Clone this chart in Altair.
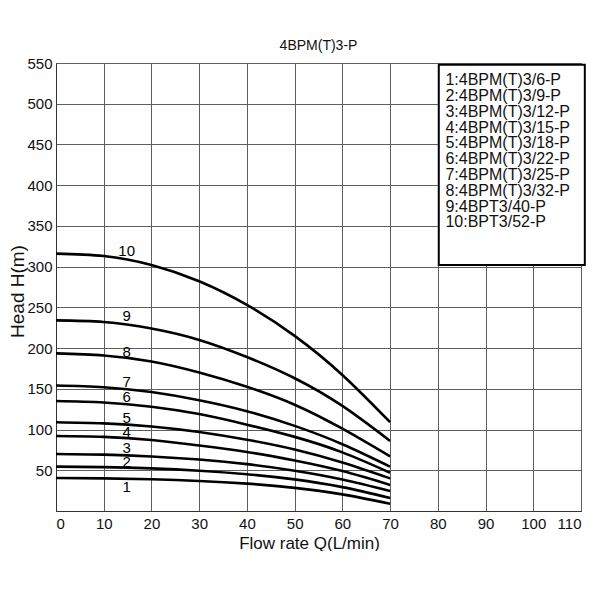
import altair as alt
import pandas as pd

FONT = "Liberation Sans"

# flow rate (L/min) where the curves were read
Q = [0, 10, 20, 30, 40, 50, 60, 70]

# head (m) of each pump curve at the flow rates above
H1 = [40.5, 40, 38.9, 36.9, 33.6, 28.4, 20.4, 9]
H2 = [54.5, 53.9, 52.3, 49.5, 45.2, 38.8, 29.3, 16]
H3 = [70, 69.2, 67, 63.2, 57.5, 49.5, 38.7, 24.5]
H4 = [92, 91, 87.2, 80.5, 72.5, 62, 49, 32]
H5 = [109, 107.6, 103.8, 97, 87.5, 75.5, 59.5, 40]
H6 = [135, 133.2, 128, 119, 106, 91, 72, 47]
H7 = [154, 152, 146, 136, 122.5, 104.5, 82, 54.5]
H8 = [193.5, 191, 183.5, 170, 152.5, 130.5, 101, 67]
H9 = [234, 232, 224, 210, 189, 163, 129, 86]
H10 = [316, 313, 302, 282, 253, 215, 167, 109]

CURVES = [H1, H2, H3, H4, H5, H6, H7, H8, H9, H10]
CURVE_IDS = ["1", "2", "3", "4", "5", "6", "7", "8", "9", "10"]

# where the curve numbers are written
LABEL_Q = [14.8] * 10
LABEL_H = [29.8, 60.5, 77, 96.5, 113.7, 139.5, 158.6, 195.5, 239, 319]

MODELS = [
    "1:4BPM(T)3/6-P",
    "2:4BPM(T)3/9-P",
    "3:4BPM(T)3/12-P",
    "4:4BPM(T)3/15-P",
    "5:4BPM(T)3/18-P",
    "6:4BPM(T)3/22-P",
    "7:4BPM(T)3/25-P",
    "8:4BPM(T)3/32-P",
    "9:4BPT3/40-P",
    "10:BPT3/52-P",
]

rows = []
for cid, heads in zip(CURVE_IDS, CURVES):
    for q, h in zip(Q, heads):
        rows.append({"curve": cid, "q": q, "h": h})
curves = pd.DataFrame(rows)

labels = pd.DataFrame({"curve": CURVE_IDS, "q": LABEL_Q, "h": LABEL_H})

box = pd.DataFrame({"x": [80.2], "x2": [110.8], "y": [548], "y2": [302]})
legend_text = pd.DataFrame(
    {"text": MODELS, "x": [81.6] * len(MODELS), "y": [529 - 19.4 * i for i in range(len(MODELS))]}
)

x_scale = alt.Scale(domain=[0, 110], nice=False)
y_scale = alt.Scale(domain=[0, 550], nice=False)

x_axis = alt.Axis(
    values=list(range(0, 111, 10)),
    title="Flow rate Q(L/min)",
    ticks=False,
    labelPadding=5,
    titlePadding=4,
    titleFontSize=17,
    titleX=253,
)
y_axis = alt.Axis(
    values=list(range(50, 551, 50)),
    title="Head H(m)",
    ticks=False,
    labelPadding=4,
    titleFontSize=19,
    titleX=-39,
    titleY=228,
    titleBaseline="middle",
)

lines = (
    alt.Chart(curves)
    .mark_line(color="black", strokeWidth=2.6, interpolate="natural")
    .encode(
        x=alt.X("q:Q", scale=x_scale, axis=x_axis),
        y=alt.Y("h:Q", scale=y_scale, axis=y_axis),
        detail="curve:N",
    )
)

numbers = (
    alt.Chart(labels)
    .mark_text(font=FONT, fontSize=15, color="black", align="center", baseline="middle")
    .encode(x=alt.X("q:Q", scale=x_scale), y=alt.Y("h:Q", scale=y_scale), text="curve:N")
)

frame = (
    alt.Chart(box)
    .mark_rect(fill="white", stroke="black", strokeWidth=2)
    .encode(
        x=alt.X("x:Q", scale=x_scale),
        x2="x2:Q",
        y=alt.Y("y:Q", scale=y_scale),
        y2="y2:Q",
    )
)

entries = (
    alt.Chart(legend_text)
    .mark_text(font=FONT, fontSize=16, color="#111111", align="left", baseline="middle")
    .encode(x=alt.X("x:Q", scale=x_scale), y=alt.Y("y:Q", scale=y_scale), text="text:N")
)

chart = (
    alt.layer(lines, numbers, frame, entries)
    .properties(
        width=525,
        height=448,
        autosize=alt.AutoSizeParams(type="none"),
        padding={"left": 48, "top": 55, "right": 10, "bottom": 40},
        title=alt.Title("4BPM(T)3-P", font=FONT, fontSize=14, fontWeight="normal", color="#111111", offset=3),
    )
    .configure_axis(
        grid=True,
        gridColor="#5f5f5f",
        gridWidth=1,
        domainColor="#333333",
        labelFont=FONT,
        titleFont=FONT,
        labelFontSize=15,
        titleFontWeight="normal",
        labelColor="#111111",
        titleColor="#111111",
    )
    .configure_view(stroke="#333333", strokeWidth=1)
)

chart.save("out.html", embed_options={"renderer": "svg", "actions": False})
